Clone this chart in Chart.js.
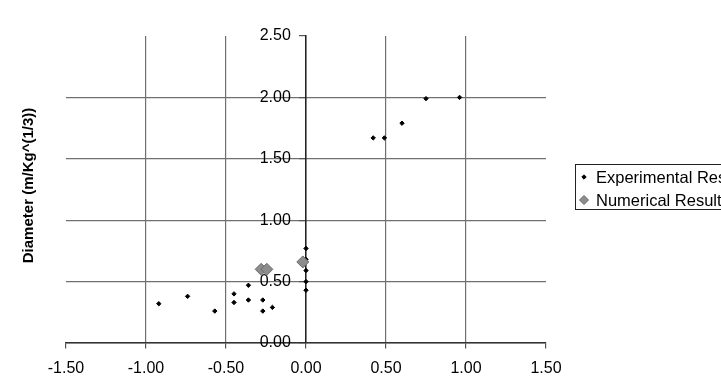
<!DOCTYPE html>
<html>
<head>
<meta charset="utf-8">
<script src="https://cdn.jsdelivr.net/npm/chart.js@4.4.1/dist/chart.umd.min.js"></script>
<style>
  html, body { margin: 0; padding: 0; background: #fff; }
  #wrap { width: 721px; height: 384px; }
</style>
</head>
<body>
<div id="wrap"><canvas id="myChart" width="721" height="384"></canvas></div>
<script>
// data
const seriesLabels = ['Experimental Results', 'Numerical Results'];
const expX = [-0.92, -0.74, -0.57, -0.45, -0.45, -0.36, -0.36, -0.27, -0.27, -0.21, 0.0, 0.0, 0.0, 0.0, 0.0, 0.42, 0.49, 0.60, 0.75, 0.96];
const expY = [0.32, 0.38, 0.26, 0.40, 0.33, 0.47, 0.35, 0.35, 0.26, 0.29, 0.77, 0.68, 0.59, 0.50, 0.43, 1.67, 1.67, 1.79, 1.99, 2.00];
const numX = [-0.28, -0.245, -0.02];
const numY = [0.60, 0.60, 0.66];
const xTicks = [-1.5, -1.0, -0.5, 0.0, 0.5, 1.0, 1.5];
const yTicks = [0.0, 0.5, 1.0, 1.5, 2.0, 2.5];
const yTitle = 'Diameter (m/Kg^(1/3))';

const FONT = "'Liberation Sans', Arial, sans-serif";

const toPoints = (xs, ys) => xs.map((x, i) => ({x: x, y: ys[i]}));
const setTicks = list => scale => { scale.ticks = list.map(v => ({value: v})); };

// boxed legend on the right, cut by the canvas edge like the original
const boxLegend = {
  id: 'boxLegend',
  afterDraw(chart) {
    const ctx = chart.ctx;
    ctx.save();
    ctx.strokeStyle = '#222';
    ctx.lineWidth = 1;
    ctx.strokeRect(575.5, 164.5, 170, 45);
    ctx.font = '16.5px ' + FONT;
    ctx.textBaseline = 'middle';
    ctx.textAlign = 'left';
    chart.data.datasets.forEach((ds, i) => {
      const y = 177 + i * 23;
      ctx.fillStyle = ds.backgroundColor;
      ctx.strokeStyle = ds.borderColor;
      Chart.helpers.drawPoint(ctx, {
        pointStyle: 'rectRot',
        radius: i === 0 ? 2.2 : 4.5,
        borderWidth: 1,
      }, 584, y);
      ctx.fillStyle = '#000';
      ctx.fillText(ds.label, 596, y + 1);
    });
    ctx.restore();
  }
};

// rotated y title at the far left
const yAxisTitle = {
  id: 'yAxisTitle',
  afterDraw(chart) {
    const ctx = chart.ctx;
    const area = chart.chartArea;
    ctx.save();
    ctx.translate(29, (area.top + area.bottom) / 2 - 4);
    ctx.rotate(-Math.PI / 2);
    ctx.font = 'bold 15px ' + FONT;
    ctx.fillStyle = '#000';
    ctx.textAlign = 'center';
    ctx.textBaseline = 'middle';
    ctx.fillText(yTitle, 0, 0);
    ctx.restore();
  }
};

const tickFont = {family: FONT, size: 16};

const ctx = document.getElementById('myChart').getContext('2d');
new Chart(ctx, {
  type: 'scatter',
  data: {
    datasets: [{
      label: seriesLabels[0],
      data: toPoints(expX, expY),
      backgroundColor: '#000',
      borderColor: '#000',
      pointStyle: 'rectRot',
      pointRadius: 2.2,
      borderWidth: 1,
      order: 2,
    },
    {
      label: seriesLabels[1],
      data: toPoints(numX, numY),
      backgroundColor: '#8c8c8c',
      borderColor: '#6a6a6a',
      pointStyle: 'rectRot',
      pointRadius: 6,
      borderWidth: 1,
      order: 1,
    }]
  },
  options: {
    responsive: false,
    animation: false,
    layout: {
      padding: {left: 66, right: 175, top: 36, bottom: 41},
    },
    plugins: {
      legend: {display: false},
      tooltip: {enabled: false},
    },
    scales: {
      x: {
        type: 'linear',
        min: -1.5,
        max: 1.5,
        position: {y: 0},
        afterBuildTicks: setTicks(xTicks),
        ticks: {
          callback: v => v.toFixed(2),
          font: tickFont,
          color: '#000',
          padding: 11,
          maxRotation: 0,
          autoSkip: false,
        },
        grid: {
          color: c => (c.tick && Math.abs(c.tick.value) === 1.5) ? 'rgba(0,0,0,0)' : '#707070',
          lineWidth: 1.2,
          tickColor: '#555',
          tickLength: 5,
        },
        border: {display: true, color: '#333', width: 1.5},
      },
      // axis line, grid and tick marks at x = 0
      y: {
        type: 'linear',
        min: 0,
        max: 2.5,
        position: {x: 0},
        afterBuildTicks: setTicks(yTicks),
        ticks: {display: false},
        grid: {
          color: c => (c.tick && c.tick.value === 2.5) ? 'rgba(0,0,0,0)' : '#707070',
          lineWidth: 1.2,
          tickColor: '#555',
          tickLength: 6,
        },
        border: {display: true, color: '#222', width: 1.5},
      },
      // the y labels, set a little left of the axis line
      yLabels: {
        type: 'linear',
        axis: 'y',
        min: 0,
        max: 2.5,
        position: {x: -0.095},
        afterBuildTicks: setTicks(yTicks),
        ticks: {
          callback: v => v.toFixed(2),
          font: tickFont,
          color: '#000',
          autoSkip: false,
        },
        grid: {display: false},
        border: {display: false},
      },
    },
  },
  plugins: [boxLegend, yAxisTitle],
});
</script>
</body>
</html>
